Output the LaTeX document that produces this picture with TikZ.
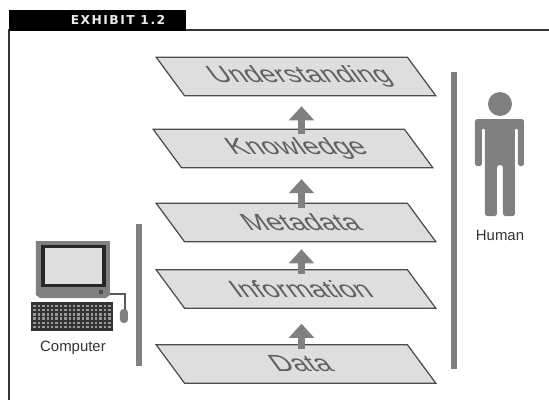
\documentclass[tikz,border=0pt]{standalone}
\usepackage{fontspec}
\setmainfont{Liberation Sans}
\newfontfamily\tabfont[LetterSpace=12]{DejaVu Sans Bold}
\usetikzlibrary{arrows.meta}
\newcommand{\squash}[1]{\hspace{5pt}\scalebox{1}[0.85]{#1}}
\tikzset{
  plane/.style={draw=black!70,line width=0.7pt,fill=black!13,text=black!62,transform shape,xslant=-0.737,
    minimum width=143pt,minimum height=21.8pt,inner sep=0pt,font=\fontsize{15.7}{18}\selectfont},
  uparrow/.style={draw=black!50,line width=4.5pt,-{Triangle[width=14pt,length=8pt]},shorten <=-2.8pt},
  bar/.style={fill=black!50,draw=none},
  caption/.style={text=black!80,font=\fontsize{8.5}{10}\selectfont,inner sep=0pt}
}
\begin{document}
\begin{tikzpicture}[x=0.02cm,y=-0.02cm]
  \useasboundingbox (0,0) rectangle (549,400);
  % frame and tab
  \draw[line width=0.7pt,black!80] (9,400)--(9,30)--(549,30);
  \fill[black] (9,10) rectangle (186,31);
  \node[text=black!8,inner sep=0pt,font=\tabfont\fontsize{7}{8}\selectfont] (tab) at (118,20) {EXHIBIT 1.2};
  % planes
  \node[plane] (understanding) at (296,76.5) {\squash{Understanding}};
  \node[plane] (knowledge) at (293,148.5) {\squash{Knowledge}};
  \node[plane] (metadata) at (296,222.5) {\squash{Metadata}};
  \node[plane] (information) at (296,289) {\squash{Information}};
  \node[plane] (data) at (296,364) {\squash{Data}};
  % arrows
  \coordinate (arrowx) at (301.5,0);
  \foreach \a/\b/\gap in {data/information/8.5,information/metadata/4,metadata/knowledge/6.2,knowledge/understanding/5.7}
    \draw[uparrow,shorten >=\gap pt] (arrowx |- \a.north) -- (arrowx |- \b.south);
  % bars
  \fill[bar] (136,224) rectangle (142,366);
  \fill[bar] (451,72) rectangle (457,369);
  % human
  \fill[black!50] (500,104) circle (12);
  \fill[black!50,rounded corners=1pt] (475,119)--(524,119)--(524,166)--(518,166)--(518,128)--(515,128)
    --(515,216)--(503,216)--(503,165)--(497,165)--(497,216)--(485,216)--(485,128)--(482,128)--(482,166)--(475,166)--cycle;
  \node[caption] (human) at (500,235) {Human};
  % computer
  \fill[black!50] (36,241)--(110,241)--(110,295)--(106,298)--(40,298)--(36,295)--cycle;
  \fill[black!85] (41,245) rectangle (106,287);
  \fill[black!13] (45,248) rectangle (102,284);
  \fill[black!70] (99,290) rectangle (103,294);
  \draw[line width=1pt,black!65] (110,294)--(125,294)--(125,310);
  \fill[black!50,rounded corners=2pt] (120,309) rectangle (128,323);
  \fill[black!80] (31,302) rectangle (113,331);
  \foreach \i in {0,...,17}
    \foreach \j in {0,...,5}
      \fill[black!40] ({33.5+\i*4.4},{304.5+\j*4.3}) rectangle ++(2.4,2.4);
  \node[caption] (computer) at (73,348) {Computer};
\end{tikzpicture}
\end{document}
